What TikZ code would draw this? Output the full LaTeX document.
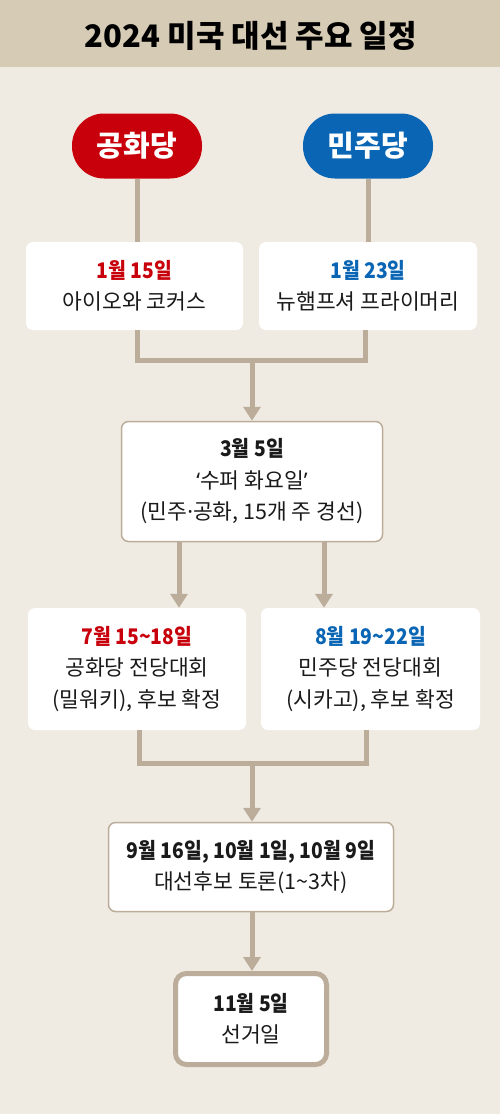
\documentclass[tikz,border=0pt]{standalone}
\usepackage{fontspec}
\setmainfont{Noto Sans CJK KR}
\newfontfamily\datefont[FakeStretch=0.9]{Noto Sans CJK KR}
\newfontfamily\latinpunct{Noto Sans}
\usetikzlibrary{arrows.meta}
\definecolor{bgc}{HTML}{EFEBE2}
\definecolor{hdr}{HTML}{D6CBB4}
\definecolor{lnc}{HTML}{BBAD9A}
\definecolor{repc}{HTML}{C8000B}
\definecolor{demc}{HTML}{0A66B4}
\definecolor{txt}{HTML}{1A1A1A}
\tikzset{
  conn/.style={draw=lnc, line width=5pt, line join=miter},
  arr/.style={conn, -{Triangle[width=17pt,length=14pt]}},
  pill/.style={rounded corners=32pt, minimum width=130pt, minimum height=65pt, text=white, inner sep=0pt, font=\fontsize{29}{32}\selectfont\bfseries},
  card/.style={fill=white, rounded corners=7pt, inner sep=0pt, align=center, text=txt, font=\fontsize{21.5}{31.5}\selectfont},
  bcard/.style={card, draw=lnc, line width=1.5pt},
}
\newcommand{\dt}[1]{{\datefont\fontsize{21.5}{31.5}\selectfont\bfseries #1}}
\newcommand{\lp}[1]{{\latinpunct #1}}
\begin{document}
\begin{tikzpicture}[x=1pt,y=-1pt]
\useasboundingbox (0,0) rectangle (500,1114);
\fill[bgc] (0,0) rectangle (500,1114);
\fill[hdr] (0,0) rectangle (500,67);
\node[text=black, font=\fontsize{31}{33}\selectfont\bfseries] (title) at (251,36) {2024 미국 대선 주요 일정};

\node[pill, fill=repc] (rep) at (137,146) {공화당};
\node[pill, fill=demc] (dem) at (368,146) {민주당};

\node[card, minimum width=217pt, minimum height=88pt] (b1) at (134.5,286)
  {\textcolor{repc}{\dt{1월 15일}}\\아이오와 코커스};
\node[card, minimum width=218pt, minimum height=88pt] (b2) at (368,286)
  {\textcolor{demc}{\dt{1월 23일}}\\뉴햄프셔 프라이머리};

\draw[conn] (rep.south) -- (rep.south |- b1.north);
\draw[conn] (dem.south) -- (dem.south |- b2.north);

\node[bcard, minimum width=261pt, minimum height=120pt] (b3) at (252,481.5)
  {\dt{3월 5일}\\\lp{‘}수퍼 화요일\lp{’}\\(민주\lp{·}공화, 15개 주 경선)};

\coordinate (j1) at (252,360);
\draw[conn] (b1.south -| 137,0) |- (j1) -| (b2.south -| 365,0);
\draw[arr] (j1) -- (b3.north);

\node[card, minimum width=218pt, minimum height=122pt] (b4) at (137,669)
  {\textcolor{repc}{\dt{7월 15\textasciitilde18일}}\\공화당 전당대회\\(밀워키), 후보 확정};
\node[card, minimum width=219pt, minimum height=122pt] (b5) at (370.5,669)
  {\textcolor{demc}{\dt{8월 19\textasciitilde22일}}\\민주당 전당대회\\(시카고), 후보 확정};

\draw[arr] (b3.south -| 179,0) -- (b4.north -| 179,0);
\draw[arr] (b3.south -| 324,0) -- (b5.north -| 324,0);

\node[bcard, minimum width=285pt, minimum height=89pt] (b6) at (251,867)
  {\dt{9월 16일, 10월 1일, 10월 9일}\\대선후보 토론(1\textasciitilde3차)};

\coordinate (j2) at (252,763);
\draw[conn] (b4.south -| 139,0) |- (j2) -| (b5.south -| 366,0);
\draw[arr] (j2) -- (b6.north -| j2);

\node[card, draw=lnc, line width=5pt, rounded corners=11pt, minimum width=151pt, minimum height=91pt] (b7) at (251,1019)
  {\dt{11월 5일}\\선거일};
\draw[arr] (b6.south -| j2) -- (b7.north -| j2);
\end{tikzpicture}
\end{document}
